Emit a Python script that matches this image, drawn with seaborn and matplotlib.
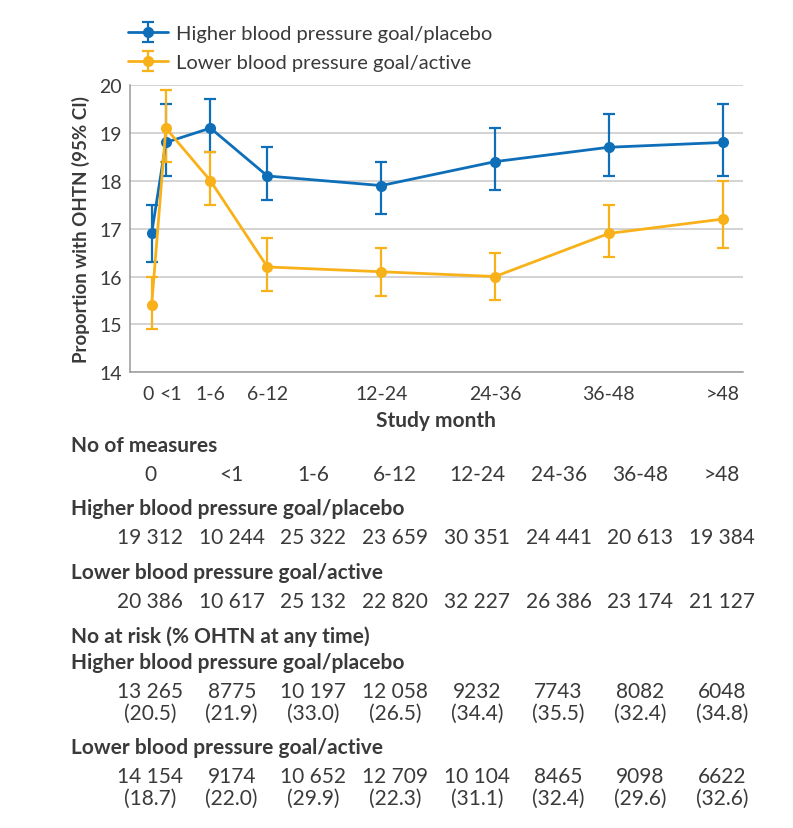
import numpy as np
import pandas as pd
import matplotlib
matplotlib.use("Agg")
import matplotlib.pyplot as plt
import matplotlib.transforms as mtransforms
from matplotlib.legend_handler import HandlerTuple
import seaborn as sns

# study month categories and plotting position (end of interval, months)
periods = ["0", "<1", "1-6", "6-12", "12-24", "24-36", "36-48", ">48"]
month_pos = [-0.2, 1.3, 6, 12, 24, 36, 48, 60]

higher_est = [16.9, 18.8, 19.1, 18.1, 17.9, 18.4, 18.7, 18.8]
higher_lo = [16.3, 18.1, 18.6, 17.6, 17.3, 17.8, 18.1, 18.1]
higher_hi = [17.5, 19.6, 19.7, 18.7, 18.4, 19.1, 19.4, 19.6]

lower_est = [15.4, 19.1, 18.0, 16.2, 16.1, 16.0, 16.9, 17.2]
lower_lo = [14.9, 18.4, 17.5, 15.7, 15.6, 15.5, 16.4, 16.6]
lower_hi = [16.0, 19.9, 18.6, 16.8, 16.6, 16.5, 17.5, 18.0]

higher_measures = [19312, 10244, 25322, 23659, 30351, 24441, 20613, 19384]
lower_measures = [20386, 10617, 25132, 22820, 32227, 26386, 23174, 21127]
higher_risk = [13265, 8775, 10197, 12058, 9232, 7743, 8082, 6048]
higher_pct = [20.5, 21.9, 33.0, 26.5, 34.4, 35.5, 32.4, 34.8]
lower_risk = [14154, 9174, 10652, 12709, 10104, 8465, 9098, 6622]
lower_pct = [18.7, 22.0, 29.9, 22.3, 31.1, 32.4, 29.6, 32.6]

label_hi = "Higher blood pressure goal/placebo"
label_lo = "Lower blood pressure goal/active"

BLUE = "#0e6eb8"
ORANGE = "#f9b11a"
TXT = "#3a3a3a"
TFS = 15  # table font size

sns.set_style("white")
plt.rcParams["font.family"] = ["Lato", "DejaVu Sans"]
plt.rcParams["text.color"] = TXT

df = pd.DataFrame({
    "month": month_pos * 2,
    "value": higher_est + lower_est,
    "group": [label_hi] * 8 + [label_lo] * 8,
})

fig = plt.figure(figsize=(7.93, 8.29), dpi=100)
ax = fig.add_axes([130.3 / 793, 1 - 373.3 / 829, (742.7 - 130.3) / 793, (373.3 - 86) / 829])

sns.lineplot(data=df, x="month", y="value", hue="group",
             palette={label_hi: BLUE, label_lo: ORANGE},
             marker="o", markersize=8, markeredgewidth=0, linewidth=2,
             legend=False, ax=ax, zorder=3)

handles = []
for est, lo, hi, col in [(higher_est, higher_lo, higher_hi, BLUE),
                         (lower_est, lower_lo, lower_hi, ORANGE)]:
    est = np.array(est)
    yerr = [est - np.array(lo), np.array(hi) - est]
    eb = ax.errorbar(month_pos, est, yerr=yerr, fmt="none", ecolor=col,
                     elinewidth=1.6, capsize=4.5, capthick=1.6, zorder=2)
    ln, = ax.plot([], [], color=col, marker="o", markersize=8,
                  markeredgewidth=0, linewidth=2)
    handles.append((eb, ln))

ax.set_xlim(-2.45, 62.1)
ax.set_ylim(14, 20)
ax.set_yticks(range(14, 21))
ax.set_xticks(month_pos)
ax.set_xticklabels(periods)
ax.yaxis.grid(True, color="#c8c8c8", linewidth=1.1)
ax.set_axisbelow(True)
for s in ["top", "right"]:
    ax.spines[s].set_visible(False)
for s in ["left", "bottom"]:
    ax.spines[s].set_color("#9a9a9a")
    ax.spines[s].set_linewidth(1.1)
ax.tick_params(axis="x", length=6, color="#9a9a9a", width=1, labelsize=14,
               labelcolor=TXT, pad=3)
ax.tick_params(axis="y", length=0, labelsize=14, labelcolor=TXT, pad=6)
ax.set_xlabel("")
ax.set_ylabel("Proportion with OHTN (95% CI)", fontsize=13.5, fontweight="bold",
              color=TXT, labelpad=7)

# nudge the two crowded first labels apart
xl = ax.get_xticklabels()
xl[0].set_transform(xl[0].get_transform() + mtransforms.ScaledTranslation(-4 / 100, 0, fig.dpi_scale_trans))
xl[1].set_transform(xl[1].get_transform() + mtransforms.ScaledTranslation(5 / 100, 0, fig.dpi_scale_trans))

fig.legend(handles, [label_hi, label_lo], loc="upper left",
           bbox_to_anchor=(110 / 793, 1 - 8 / 829), frameon=False,
           fontsize=14.5, handlelength=2.0, handletextpad=0.4,
           labelspacing=0.6, handler_map={tuple: HandlerTuple(ndivide=1)})

# table under the chart
def fy(py):
    return 1 - py / 829

def fmt_n(n):
    return f"{n:,}".replace(",", " ") if n >= 10000 else str(n)

cols = np.linspace(150, 722, 8) / 793
left = 71 / 793

fig.text(436 / 793, fy(421), "Study month", ha="center", va="center",
         fontsize=TFS, fontweight="bold")

fig.text(left, fy(446), "No of measures", ha="left", va="center", fontsize=TFS, fontweight="bold")
for x, p in zip(cols, periods):
    fig.text(x, fy(475), p, ha="center", va="center", fontsize=TFS)

fig.text(left, fy(509), label_hi, ha="left", va="center", fontsize=TFS, fontweight="bold")
for x, n in zip(cols, higher_measures):
    fig.text(x, fy(538), fmt_n(n), ha="center", va="center", fontsize=TFS)

fig.text(left, fy(573), label_lo, ha="left", va="center", fontsize=TFS, fontweight="bold")
for x, n in zip(cols, lower_measures):
    fig.text(x, fy(602), fmt_n(n), ha="center", va="center", fontsize=TFS)

fig.text(left, fy(637), "No at risk (% OHTN at any time)", ha="left", va="center",
         fontsize=TFS, fontweight="bold")
fig.text(left, fy(663), label_hi, ha="left", va="center", fontsize=TFS, fontweight="bold")
for x, n, p in zip(cols, higher_risk, higher_pct):
    fig.text(x, fy(692), fmt_n(n), ha="center", va="center", fontsize=TFS)
    fig.text(x, fy(714), f"({p:.1f})", ha="center", va="center", fontsize=TFS)

fig.text(left, fy(748), label_lo, ha="left", va="center", fontsize=TFS, fontweight="bold")
for x, n, p in zip(cols, lower_risk, lower_pct):
    fig.text(x, fy(777), fmt_n(n), ha="center", va="center", fontsize=TFS)
    fig.text(x, fy(799), f"({p:.1f})", ha="center", va="center", fontsize=TFS)

fig.savefig("out.png", dpi=100, facecolor="white")
